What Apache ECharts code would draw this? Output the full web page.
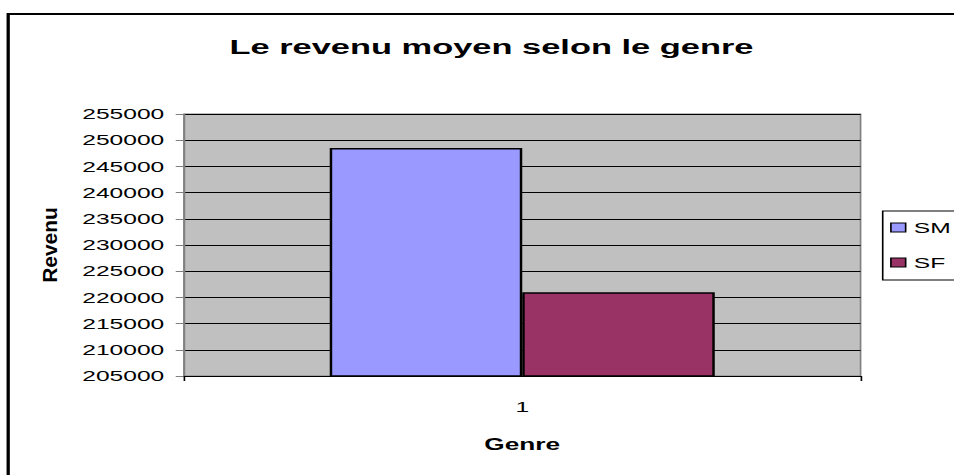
<!DOCTYPE html>
<html>
<head>
<meta charset="utf-8">
<script src="https://cdn.jsdelivr.net/npm/echarts@6/dist/echarts.min.js"></script>
<style>
html,body{margin:0;padding:0;background:#fff;overflow:hidden;width:954px;height:475px;}
#chart{width:582px;height:475px;transform:scaleX(1.6392);transform-origin:0 0;}
</style>
</head>
<body>
<div id="chart"></div>
<script>
const categories = ['1'];
const seriesNames = ['SM', 'SF'];
const smValues = [248500];
const sfValues = [221000];
const yMin = 205000;
const yMax = 255000;
const yInterval = 5000;
const colors = ['#9999FF', '#993366'];

const FONT = '"Liberation Sans", Arial, sans-serif';
const chart = echarts.init(document.getElementById('chart'), null, {renderer: 'svg'});

chart.setOption({
  animation: false,
  backgroundColor: '#fff',
  title: {
    text: 'Le revenu moyen selon le genre',
    left: 140,
    top: 36,
    padding: 0,
    textStyle: {fontFamily: FONT, fontSize: 21, fontWeight: 'bold', color: '#000'}
  },
  legend: {
    orient: 'vertical',
    left: 543,
    top: 218.5,
    padding: 0,
    itemWidth: 9,
    itemHeight: 9,
    itemGap: 17,
    itemTextGap: 4,
    icon: 'rect',
    z: 10,
    selectedMode: false,
    data: seriesNames,
    itemStyle: {borderColor: '#000', borderWidth: 1},
    textStyle: {fontFamily: FONT, fontSize: 15, color: '#000', lineHeight: 18}
  },
  grid: {
    left: 112.2,
    top: 114,
    width: 412.8,
    height: 262,
    show: true,
    backgroundColor: '#C0C0C0',
    borderColor: '#808080',
    borderWidth: 1,
    containLabel: false
  },
  xAxis: {
    type: 'category',
    data: categories,
    name: 'Genre',
    nameLocation: 'middle',
    nameGap: 60,
    nameTextStyle: {fontFamily: FONT, fontSize: 16, fontWeight: 'bold', color: '#000'},
    axisLine: {show: true, lineStyle: {color: '#000', width: 1}},
    axisTick: {show: true, alignWithLabel: false, length: 5, lineStyle: {color: '#000'}},
    axisLabel: {margin: 23, fontFamily: FONT, fontSize: 15, color: '#000'},
    splitLine: {show: false}
  },
  yAxis: {
    type: 'value',
    min: yMin,
    max: yMax,
    interval: yInterval,
    axisLine: {show: true, lineStyle: {color: '#808080', width: 1}},
    axisTick: {show: true, length: 5, lineStyle: {color: '#808080'}},
    axisLabel: {margin: 12, fontFamily: FONT, fontSize: 15, color: '#000', formatter: function (v) { return String(v); }},
    splitLine: {show: true, lineStyle: {color: '#000', width: 1}}
  },
  graphic: [
    {
      type: 'rect',
      z: 0,
      silent: true,
      shape: {x: 5, y: 14, width: 800, height: 700},
      style: {fill: 'none', stroke: '#000', lineWidth: 2}
    },
    {
      type: 'rect',
      z: 1,
      silent: true,
      shape: {x: 538.5, y: 211, width: 80, height: 69},
      style: {fill: '#fff', stroke: '#000', lineWidth: 1}
    },
    {
      type: 'text',
      z: 5,
      silent: true,
      x: 30.2,
      y: 245,
      rotation: Math.PI / 2,
      scaleX: 1.31,
      scaleY: 0.8,
      style: {
        text: 'Revenu',
        font: 'bold 16px "Liberation Sans", Arial, sans-serif',
        fill: '#000',
        align: 'center',
        verticalAlign: 'middle',
        textAlign: 'center',
        textVerticalAlign: 'middle'
      }
    }
  ],
  series: [
    {
      name: seriesNames[0],
      type: 'bar',
      data: smValues,
      barGap: '0%',
      barCategoryGap: '43.1%',
      itemStyle: {color: colors[0], borderColor: '#000', borderWidth: 1.5}
    },
    {
      name: seriesNames[1],
      type: 'bar',
      data: sfValues,
      barGap: '0%',
      barCategoryGap: '43.1%',
      itemStyle: {color: colors[1], borderColor: '#000', borderWidth: 1.5}
    }
  ]
});
</script>
</body>
</html>
